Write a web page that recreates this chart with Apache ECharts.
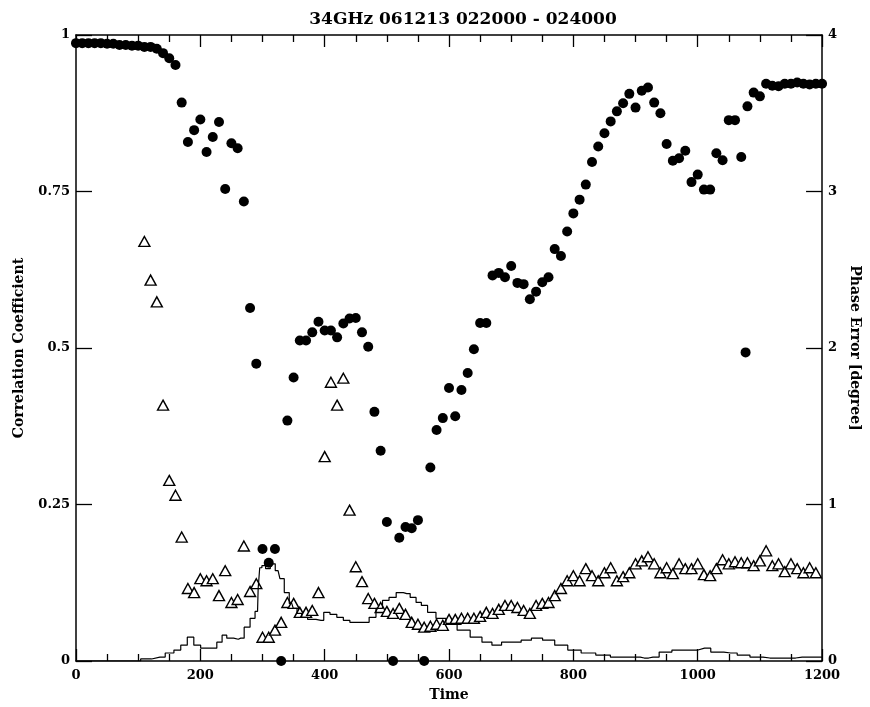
<!DOCTYPE html>
<html>
<head>
<meta charset="utf-8">
<script src="https://cdn.jsdelivr.net/npm/echarts@6/dist/echarts.min.js"></script>
<style>html,body{margin:0;padding:0;background:#fff}#c{width:870px;height:707px}</style>
</head>
<body>
<div id="c"></div>
<script>
// Correlation coefficient (filled circles)
const corrTime = [0,10,20,30,40,50,60,70,80,90,100,110,120,130,140,150,160,170,180,190,200,210,220,230,240,250,260,270,280,290,300,310,320,330,340,350,360,370,380,390,400,410,420,430,440,450,460,470,480,490,500,510,520,530,540,550,560,570,580,590,600,610,620,630,640,650,660,670,680,690,700,710,720,730,740,750,760,770,780,790,800,810,820,830,840,850,860,870,880,890,900,910,920,930,940,950,960,970,980,990,1000,1010,1020,1030,1040,1050,1060,1070,1077,1080,1090,1100,1110,1120,1130,1140,1150,1160,1170,1180,1190,1200];
const corrValue = [0.987,0.987,0.987,0.987,0.987,0.986,0.986,0.984,0.984,0.983,0.983,0.981,0.981,0.978,0.971,0.963,0.952,0.892,0.829,0.848,0.865,0.813,0.837,0.861,0.754,0.827,0.819,0.734,0.564,0.475,0.179,0.157,0.179,0.0,0.384,0.453,0.512,0.512,0.525,0.542,0.528,0.528,0.517,0.539,0.547,0.548,0.525,0.502,0.398,0.336,0.222,0.0,0.197,0.214,0.212,0.225,0.0,0.309,0.369,0.388,0.436,0.391,0.433,0.460,0.498,0.540,0.540,0.616,0.620,0.613,0.631,0.604,0.602,0.578,0.590,0.605,0.613,0.658,0.647,0.686,0.715,0.737,0.761,0.797,0.822,0.843,0.862,0.878,0.891,0.906,0.884,0.911,0.916,0.892,0.875,0.826,0.799,0.803,0.815,0.765,0.777,0.753,0.753,0.811,0.800,0.864,0.864,0.805,0.493,0.886,0.908,0.902,0.922,0.919,0.918,0.922,0.922,0.924,0.922,0.921,0.922,0.922];

// Phase error (open triangles), degrees
const phaseTime = [110,120,130,140,150,160,170,180,190,200,210,220,230,240,250,260,270,280,290,300,310,320,330,340,350,360,370,380,390,400,410,420,430,440,450,460,470,480,490,500,510,520,530,540,550,560,570,580,590,600,610,620,630,640,650,660,670,680,690,700,710,720,730,740,750,760,770,780,790,800,810,820,830,840,850,860,870,880,890,900,910,920,930,940,950,960,970,980,990,1000,1010,1020,1030,1040,1050,1060,1070,1080,1090,1100,1110,1120,1130,1140,1150,1160,1170,1180,1190];
const phaseValue = [2.681,2.434,2.295,1.635,1.154,1.059,0.792,0.463,0.437,0.526,0.513,0.526,0.418,0.577,0.374,0.393,0.735,0.444,0.494,0.152,0.152,0.197,0.247,0.374,0.368,0.311,0.311,0.323,0.437,1.306,1.781,1.635,1.807,0.964,0.602,0.507,0.399,0.368,0.342,0.317,0.304,0.336,0.298,0.247,0.235,0.216,0.222,0.235,0.228,0.266,0.266,0.273,0.273,0.273,0.285,0.311,0.304,0.330,0.355,0.355,0.342,0.323,0.304,0.355,0.368,0.374,0.418,0.463,0.513,0.545,0.513,0.590,0.545,0.513,0.564,0.596,0.513,0.539,0.564,0.621,0.640,0.666,0.621,0.564,0.596,0.558,0.621,0.590,0.590,0.621,0.552,0.545,0.590,0.647,0.621,0.634,0.628,0.628,0.609,0.640,0.704,0.609,0.621,0.571,0.621,0.590,0.564,0.596,0.564];

// Line (phase error, degrees)
const lineTime = [0,50,100,108,135,152,163,174,184,195,206,222,231,239,246,261,265,276,284,292,294,297,301,309,316,325,331,339,347,352,359,367,378,394,403,414,425,435,446,466,477,488,498,509,521,532,543,551,560,571,587,603,623,645,661,677,692,708,724,741,760,780,802,823,849,870,901,914,928,948,969,990,1011,1031,1053,1074,1094,1116,1147,1168,1200];
const lineValue = [0,0,0,0.013,0.025,0.051,0.070,0.101,0.152,0.101,0.082,0.082,0.120,0.165,0.146,0.139,0.146,0.216,0.273,0.317,0.463,0.596,0.609,0.590,0.621,0.577,0.526,0.437,0.368,0.336,0.304,0.279,0.266,0.260,0.311,0.298,0.279,0.260,0.247,0.247,0.279,0.336,0.387,0.406,0.437,0.431,0.406,0.374,0.355,0.311,0.273,0.241,0.197,0.152,0.120,0.101,0.120,0.120,0.133,0.146,0.133,0.101,0.070,0.051,0.038,0.025,0.025,0.019,0.025,0.057,0.070,0.070,0.082,0.057,0.051,0.038,0.025,0.019,0.019,0.025,0.025];

const xTicks = {min:0, max:1200, interval:200};
const yLeftTicks = {min:0, max:1, interval:0.25};
const yRightTicks = {min:0, max:4, interval:1};

const FONT = 'DejaVu Serif';
const ax = {onZero:false, lineStyle:{color:'#000', width:1.5}};
const lbl = {color:'#000', fontFamily:FONT, fontWeight:'bold', fontSize:13, formatter:(v)=>String(v)};
const nameStyle = {color:'#000', fontFamily:FONT, fontWeight:'bold', fontSize:14};
const tick = {show:true, inside:true, length:12, lineStyle:{color:'#000', width:1.3}};
const minor = {show:true, splitNumber:4, length:7, lineStyle:{color:'#000', width:1.3}};

const chart = echarts.init(document.getElementById('c'), null, {renderer:'canvas'});
chart.setOption({
  animation:false,
  backgroundColor:'#fff',
  title:{text:'34GHz 061213 022000 - 024000', left:458, top:6, textAlign:'center',
    textStyle:{fontFamily:FONT, fontWeight:'bold', fontSize:17, color:'#000'}},
  grid:{left:76, right:29.5, top:35, bottom:41, containLabel:false},
  xAxis:[
    {type:'value', position:'bottom', min:xTicks.min, max:xTicks.max, interval:xTicks.interval,
     axisLine:ax, axisTick:tick, minorTick:minor,
     splitLine:{show:false}, axisLabel:Object.assign({margin:8}, lbl),
     name:'Time', nameLocation:'middle', nameGap:27, nameTextStyle:nameStyle},
    {type:'value', position:'top', min:xTicks.min, max:xTicks.max, interval:xTicks.interval,
     axisLine:ax, axisTick:tick, minorTick:minor,
     splitLine:{show:false}, axisLabel:{show:false}}
  ],
  yAxis:[
    {type:'value', position:'left', min:yLeftTicks.min, max:yLeftTicks.max, interval:yLeftTicks.interval,
     axisLine:ax, axisTick:Object.assign({}, tick, {length:16}),
     splitLine:{show:false}, axisLabel:Object.assign({margin:6}, lbl),
     name:'Correlation Coefficient', nameLocation:'middle', nameRotate:90, nameGap:50, nameTextStyle:nameStyle},
    {type:'value', position:'right', min:yRightTicks.min, max:yRightTicks.max, interval:yRightTicks.interval,
     axisLine:ax, axisTick:Object.assign({}, tick, {length:16}),
     splitLine:{show:false}, axisLabel:Object.assign({margin:6}, lbl),
     name:'Phase Error [degree]', nameLocation:'middle', nameRotate:-90, nameGap:20, nameTextStyle:nameStyle}
  ],
  series:[
    {type:'scatter', xAxisIndex:0, yAxisIndex:0, symbol:'circle', symbolSize:10,
     itemStyle:{color:'#000', opacity:1}, data:corrTime.map((t,i)=>[t, corrValue[i]]), clip:false, z:3},
    {type:'scatter', xAxisIndex:1, yAxisIndex:1, symbol:'triangle', symbolSize:[11,10],
     itemStyle:{color:'#fff', borderColor:'#000', borderWidth:1.4, opacity:1},
     data:phaseTime.map((t,i)=>[t, phaseValue[i]]), z:4},
    {type:'line', xAxisIndex:1, yAxisIndex:1, step:'middle', showSymbol:false, symbol:'none',
     lineStyle:{color:'#000', width:1.2}, data:lineTime.map((t,i)=>[t, lineValue[i]]), z:5}
  ]
});
</script>
</body>
</html>
